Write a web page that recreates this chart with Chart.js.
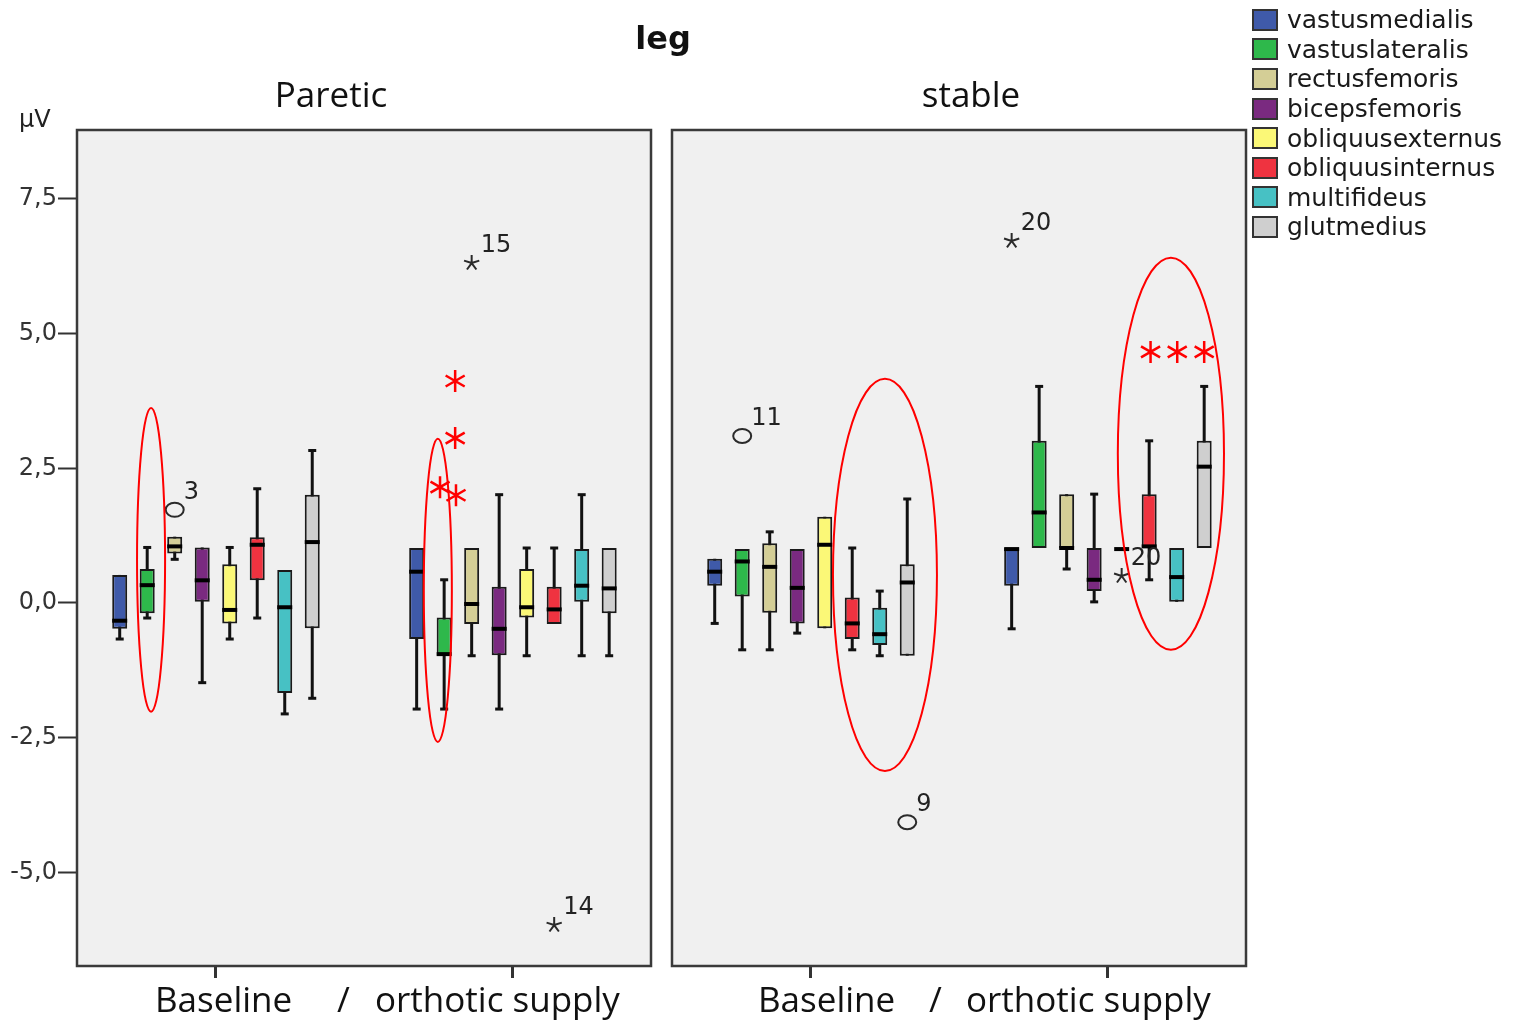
<!DOCTYPE html>
<html><head><meta charset="utf-8">
<script src="https://cdn.jsdelivr.net/npm/chart.js@4"></script>
<style>
html,body{margin:0;padding:0;background:#fff;width:1525px;height:1023px;overflow:hidden;position:relative;}
canvas{position:absolute;top:0;}
.t{position:absolute;white-space:pre;color:#111;line-height:1;}
.os{font-family:"Open Sans",sans-serif;font-size:35px;}
.dv{font-family:"DejaVu Sans",sans-serif;}
#legend{position:absolute;left:1252px;top:5px;font-family:"DejaVu Sans",sans-serif;font-size:25px;color:#1a1a1a;}
.row{height:29.6px;display:flex;align-items:center;}
.sw{width:22px;height:18px;border:2px solid #333;margin-right:9px;}
</style></head><body>
<canvas id="c1" width="661" height="1023" style="left:0px"></canvas>
<canvas id="c2" width="594" height="1023" style="left:662px"></canvas>

<div class="t dv" style="left:463px;width:400px;text-align:center;top:22px;font-size:32px;font-weight:bold;">leg</div>
<div class="t os" style="left:131px;width:400px;text-align:center;top:76px;">Paretic</div>
<div class="t os" style="left:771px;width:400px;text-align:center;top:76px;">stable</div>
<div class="t dv" style="left:19px;top:107px;font-size:24px;color:#222;">μV</div>
<div class="t os" style="left:155px;top:981px;">Baseline</div>
<div class="t os" style="left:337px;top:981px;">/</div>
<div class="t os" style="left:375px;top:981px;">orthotic supply</div>
<div class="t os" style="left:758px;top:981px;">Baseline</div>
<div class="t os" style="left:929px;top:981px;">/</div>
<div class="t os" style="left:966px;top:981px;">orthotic supply</div>
<div id="legend"></div>

<script>
// ---------- data ----------
const muscles = ['vastusmedialis','vastuslateralis','rectusfemoris','bicepsfemoris','obliquusexternus','obliquusinternus','multifideus','glutmedius'];
const muscleColors = ['#3f5aa9','#2eb84b','#d4ce96','#7a2a80','#fbf877','#ef3340','#47c1c4','#cfcfcf'];
const groups = ['Baseline','orthotic supply'];
const yTicks = [-5, -2.5, 0, 2.5, 5, 7.5];

// Paretic – Baseline
const pareticBaseMin = [-0.67, -0.28, 0.81, -1.48, -0.67, -0.28, -2.06, -1.77];
const pareticBaseQ1  = [-0.48, -0.19, 0.92,  0.02, -0.38,  0.42, -1.67, -0.47];
const pareticBaseMed = [-0.33,  0.33, 1.05,  0.42, -0.13,  1.08, -0.08,  1.13];
const pareticBaseQ3  = [ 0.52,  0.63, 1.23,  1.03,  0.72,  1.22,  0.61,  2.01];
const pareticBaseMax = [ 0.52,  1.03, 1.23,  1.03,  1.03,  2.12,  0.61,  2.83];
// Paretic – orthotic supply
const pareticOrthMin = [-1.97, -1.97, -0.98, -1.97, -0.98, -0.39, -0.98, -0.98];
const pareticOrthQ1  = [-0.67, -0.98, -0.39, -0.97, -0.27, -0.39,  0.02, -0.19];
const pareticOrthMed = [ 0.58, -0.95, -0.02, -0.48, -0.08, -0.12,  0.32,  0.27];
const pareticOrthQ3  = [ 1.02, -0.27,  1.02,  0.30,  0.63,  0.30,  1.00,  1.02];
const pareticOrthMax = [ 1.02,  0.43,  1.02,  2.01,  1.02,  1.02,  2.01,  1.02];
// stable – Baseline
const stableBaseMin = [-0.38, -0.87, -0.87, -0.56, -0.47, -0.87, -0.98, -0.98];
const stableBaseQ1  = [ 0.32,  0.12, -0.18, -0.38, -0.47, -0.67, -0.78, -0.98];
const stableBaseMed = [ 0.58,  0.77,  0.67,  0.28,  1.08, -0.38, -0.58,  0.38];
const stableBaseQ3  = [ 0.82,  1.00,  1.11,  1.00,  1.60,  0.10, -0.09,  0.72];
const stableBaseMax = [ 0.82,  1.00,  1.32,  1.00,  1.60,  1.02,  0.22,  1.93];
// stable – orthotic supply
const stableOrthMin = [-0.48, 1.02, 0.63, 0.02, 1.00, 0.43, 0.02, 1.02];
const stableOrthQ1  = [ 0.32, 1.02, 1.02, 0.22, 1.00, 1.02, 0.02, 1.02];
const stableOrthMed = [ 1.00, 1.68, 1.02, 0.43, 1.00, 1.05, 0.48, 2.53];
const stableOrthQ3  = [ 1.02, 3.01, 2.02, 1.02, 1.00, 2.02, 1.02, 3.01];
const stableOrthMax = [ 1.02, 4.02, 2.02, 2.02, 1.00, 3.01, 1.02, 4.02];

// outliers: group index, muscle index, value, case label, marker kind
const pareticOutliers = [
  {group:0, muscle:2, value:1.73, label:'3', kind:'circle'},
  {group:1, muscle:2, value:6.31, label:'15', kind:'star'},
  {group:1, muscle:5, value:-5.98, label:'14', kind:'star'}
];
const stableOutliers = [
  {group:0, muscle:1, value:3.10, label:'11', kind:'circle'},
  {group:0, muscle:7, value:-4.07, label:'9', kind:'circle'},
  {group:1, muscle:0, value:6.72, label:'20', kind:'star'},
  {group:1, muscle:4, value:0.50, label:'20', kind:'star'}
];

// red annotations (ellipses in muscle-slot units / μV, significance stars)
const pareticEllipses = [
  {group:0, muscle:1.14, halfSlots:0.51, top:3.62, bottom:-2.02},
  {group:1, muscle:0.77, halfSlots:0.51, top:3.05, bottom:-2.58}
];
const stableEllipses = [
  {group:0, muscle:6.19, halfSlots:1.89, top:4.16, bottom:-3.12},
  {group:1, muscle:5.79, halfSlots:1.93, top:6.41, bottom:-0.87}
];
const pareticStars = [
  {group:1, muscle:1.40, value:4.12},
  {group:1, muscle:1.40, value:3.06},
  {group:1, muscle:0.85, value:2.15},
  {group:1, muscle:1.43, value:2.00}
];
const stableStars = [
  {group:1, muscle:5.05, value:4.66},
  {group:1, muscle:6.02, value:4.66},
  {group:1, muscle:7.00, value:4.66}
];

// ---------- legend ----------
const lg = document.getElementById('legend');
muscles.forEach((m, i) => {
  const r = document.createElement('div'); r.className = 'row';
  const s = document.createElement('div'); s.className = 'sw'; s.style.background = muscleColors[i];
  const t = document.createElement('span'); t.textContent = m;
  r.appendChild(s); r.appendChild(t); lg.appendChild(r);
});

// ---------- chart helpers ----------
function groupStats(min, q1, med, q3, max) { return {min, q1, med, q3, max}; }

const panels = [
  { canvas:'c1', showY:true,
    stats:[groupStats(pareticBaseMin,pareticBaseQ1,pareticBaseMed,pareticBaseQ3,pareticBaseMax),
           groupStats(pareticOrthMin,pareticOrthQ1,pareticOrthMed,pareticOrthQ3,pareticOrthMax)],
    outliers:pareticOutliers, ellipses:pareticEllipses, stars:pareticStars },
  { canvas:'c2', showY:false,
    stats:[groupStats(stableBaseMin,stableBaseQ1,stableBaseMed,stableBaseQ3,stableBaseMax),
           groupStats(stableOrthMin,stableOrthQ1,stableOrthMed,stableOrthQ3,stableOrthMax)],
    outliers:stableOutliers, ellipses:stableEllipses, stars:stableStars }
];

function slotX(chart, g, m) {
  const a = chart.getDatasetMeta(0).data[g], b = chart.getDatasetMeta(1).data[g];
  return a.x + m * (b.x - a.x);
}
function slotStep(chart, g) {
  return chart.getDatasetMeta(1).data[g].x - chart.getDatasetMeta(0).data[g].x;
}

function makePlugin(panel) {
  return {
    id: 'boxes_' + panel.canvas,
    beforeDraw(chart) {
      const {ctx, chartArea:a} = chart;
      ctx.save(); ctx.fillStyle = '#f0f0f0'; ctx.fillRect(a.left, a.top, a.width, a.height); ctx.restore();
    },
    beforeDatasetsDraw(chart) {
      const {ctx} = chart; const y = chart.scales.y;
      ctx.save(); ctx.strokeStyle = '#111'; ctx.lineCap = 'butt';
      panel.stats.forEach((st, g) => {
        muscles.forEach((mu, m) => {
          const bar = chart.getDatasetMeta(m).data[g];
          const x = bar.x;
          const pMax = y.getPixelForValue(st.max[m]), pMin = y.getPixelForValue(st.min[m]);
          ctx.lineWidth = 3;
          ctx.beginPath(); ctx.moveTo(x, pMax); ctx.lineTo(x, pMin); ctx.stroke();
          if (st.max[m] > st.q3[m]) { ctx.beginPath(); ctx.moveTo(x-4, pMax); ctx.lineTo(x+4, pMax); ctx.stroke(); }
          if (st.min[m] < st.q1[m]) { ctx.beginPath(); ctx.moveTo(x-4, pMin); ctx.lineTo(x+4, pMin); ctx.stroke(); }
        });
      });
      ctx.restore();
    },
    afterDatasetsDraw(chart) {
      const {ctx, chartArea:a} = chart; const y = chart.scales.y;
      ctx.save();
      // medians
      ctx.strokeStyle = '#000'; ctx.lineWidth = 4;
      panel.stats.forEach((st, g) => {
        muscles.forEach((mu, m) => {
          const bar = chart.getDatasetMeta(m).data[g];
          const p = y.getPixelForValue(st.med[m]);
          ctx.beginPath(); ctx.moveTo(bar.x - bar.width/2, p); ctx.lineTo(bar.x + bar.width/2, p); ctx.stroke();
        });
      });
      // outliers
      panel.outliers.forEach(o => {
        const x = chart.getDatasetMeta(o.muscle).data[o.group].x;
        const p = y.getPixelForValue(o.value);
        ctx.strokeStyle = '#2a2a2a'; ctx.lineWidth = 2;
        if (o.kind === 'circle') {
          ctx.beginPath(); ctx.ellipse(x, p, 9, 7, 0, 0, Math.PI*2); ctx.stroke();
        } else {
          ctx.beginPath();
          for (let k = 0; k < 5; k++) {
            const ang = -Math.PI/2 + k * 2*Math.PI/5;
            ctx.moveTo(x, p); ctx.lineTo(x + 8*Math.cos(ang), p + 8*Math.sin(ang));
          }
          ctx.stroke();
        }
        ctx.fillStyle = '#222'; ctx.font = '24px "DejaVu Sans"'; ctx.textAlign = 'left'; ctx.textBaseline = 'alphabetic';
        ctx.fillText(o.label, x + 9, p - 11);
      });
      // red ellipses
      ctx.strokeStyle = '#ff0000'; ctx.lineWidth = 2;
      panel.ellipses.forEach(e => {
        const cx = slotX(chart, e.group, e.muscle);
        const rx = e.halfSlots * slotStep(chart, e.group);
        const pt = y.getPixelForValue(e.top), pb = y.getPixelForValue(e.bottom);
        ctx.beginPath(); ctx.ellipse(cx, (pt+pb)/2, rx, (pb-pt)/2, 0, 0, Math.PI*2); ctx.stroke();
      });
      // red significance stars
      ctx.strokeStyle = '#ff0000'; ctx.lineWidth = 2.5;
      panel.stars.forEach(s => {
        const cx = slotX(chart, s.group, s.muscle);
        const p = y.getPixelForValue(s.value);
        ctx.beginPath();
        [90, 30, 150, 210, 270, 330].forEach(d => {
          const r = d * Math.PI/180;
          ctx.moveTo(cx, p); ctx.lineTo(cx + 11*Math.cos(r), p - 11*Math.sin(r));
        });
        ctx.stroke();
      });
      // frame
      ctx.strokeStyle = '#3a3a3a'; ctx.lineWidth = 2.5;
      ctx.strokeRect(a.left, a.top, a.width, a.height);
      ctx.restore();
    }
  };
}

panels.forEach(panel => {
  const datasets = muscles.map((name, m) => ({
    label: name,
    data: groups.map((g, gi) => ({x: gi, y: [panel.stats[gi].q1[m], panel.stats[gi].q3[m]]})),
    backgroundColor: muscleColors[m],
    borderColor: '#1a1a1a',
    borderWidth: 2,
    borderSkipped: false,
    barPercentage: 0.545,
    categoryPercentage: 0.741
  }));
  const yScale = panel.showY ? {
    type:'linear', min:-6.74, max:8.78,
    afterBuildTicks: s => { s.ticks = yTicks.map(v => ({value:v})); },
    ticks:{ callback: v => Number(v).toFixed(1).replace('.', ','), font:{family:'DejaVu Sans', size:24}, color:'#333', padding:1, autoSkip:false },
    grid:{ drawOnChartArea:false, drawTicks:true, tickLength:19, tickWidth:2, tickColor:'#333' },
    border:{ display:false },
    afterFit: s => { s.width = 77; }
  } : { type:'linear', min:-6.74, max:8.78, display:false };
  new Chart(document.getElementById(panel.canvas), {
    type: 'bar',
    data: { datasets },
    options: {
      responsive:false, animation:false,
      layout:{ padding: panel.showY ? {top:130, right:10, left:0, bottom:0} : {top:130, right:10, left:10, bottom:0} },
      plugins:{ legend:{display:false}, tooltip:{enabled:false} },
      scales:{
        x:{ type:'linear', min:-0.468, max:1.465, offset:false, bounds:'data',
            afterBuildTicks: s => { s.ticks = groups.map((g, i) => ({value:i})); },
            ticks:{ display:false },
            grid:{ display:true, offset:false, drawOnChartArea:false, drawTicks:true, tickLength:12, tickWidth:3, tickColor:'#333' },
            border:{ display:false },
            afterFit: s => { s.height = 57; } },
        y: yScale
      }
    },
    plugins:[ makePlugin(panel) ]
  });
});
</script>
</body></html>
